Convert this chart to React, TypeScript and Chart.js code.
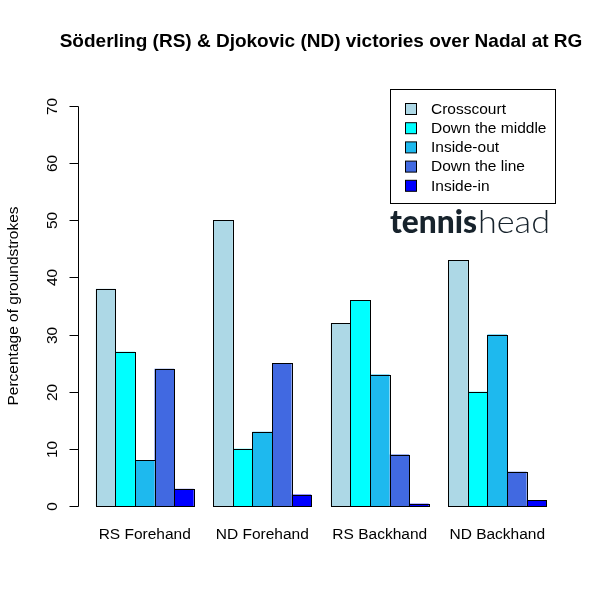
import React, { useEffect, useRef } from "react";
import { Chart, registerables } from "chart.js";

Chart.register(...registerables);

const title = "Söderling (RS) & Djokovic (ND) victories over Nadal at RG";
const yAxisTitle = "Percentage of groundstrokes";
const categories = ["RS Forehand", "ND Forehand", "RS Backhand", "ND Backhand"];
const seriesNames = ["Crosscourt", "Down the middle", "Inside-out", "Down the line", "Inside-in"];
const seriesColors = ["#ADD8E6", "#00FFFF", "#1EB9EE", "#4169E1", "#0000FF"];
const crosscourt = [38, 50, 32, 43];
const downTheMiddle = [27, 10, 36, 20];
const insideOut = [8, 13, 23, 30];
const downTheLine = [24, 25, 9, 6];
const insideIn = [3, 2, 0.4, 1];
const yTicks = [0, 10, 20, 30, 40, 50, 60, 70];
const logoBold = "tennis";
const logoLight = "head";

const FONT = "'Liberation Sans', Arial, sans-serif";

const crispBorders = {
  id: "crispBorders",
  afterDatasetsDraw(chart: any) {
    const ctx = chart.ctx as CanvasRenderingContext2D;
    ctx.save();
    ctx.strokeStyle = "#000";
    ctx.lineWidth = 1;
    chart.data.datasets.forEach((_: any, di: number) => {
      const meta = chart.getDatasetMeta(di);
      meta.data.forEach((bar: any) => {
        const { x, y, base, width } = bar.getProps(["x", "y", "base", "width"], true);
        const l = Math.round(x - width / 2) + 0.5;
        const r = Math.round(x + width / 2) + 0.5;
        const t = Math.round(y) + 0.5;
        const b = Math.round(base) + 0.5;
        ctx.strokeRect(l, t, r - l, b - t);
      });
    });
    ctx.restore();
  },
};

const decorPlugin = {
  id: "decor",
  afterDraw(chart: any) {
    const ctx = chart.ctx as CanvasRenderingContext2D;
    const ys = chart.scales.y;
    const xs = chart.scales.x;
    ctx.save();
    // title
    ctx.fillStyle = "#000";
    ctx.font = `bold 19px ${FONT}`;
    ctx.textAlign = "center";
    ctx.textBaseline = "middle";
    ctx.fillText(title, 321, 42);

    // y axis
    const axX = 78.5;
    ctx.strokeStyle = "#000";
    ctx.lineWidth = 1;
    ctx.beginPath();
    ctx.moveTo(axX, Math.round(ys.getPixelForValue(yTicks[0])) + 0.5);
    ctx.lineTo(axX, Math.round(ys.getPixelForValue(yTicks[yTicks.length - 1])) + 0.5);
    ctx.stroke();
    ctx.font = `15.5px ${FONT}`;
    for (const t of yTicks) {
      const py = Math.round(ys.getPixelForValue(t)) + 0.5;
      ctx.beginPath();
      ctx.moveTo(axX, py);
      ctx.lineTo(axX - 9, py);
      ctx.stroke();
      ctx.save();
      ctx.translate(53, py);
      ctx.rotate(-Math.PI / 2);
      ctx.textAlign = "center";
      ctx.textBaseline = "middle";
      ctx.fillText(String(t), 0, 0);
      ctx.restore();
    }
    // y title
    ctx.save();
    ctx.translate(14, 306);
    ctx.rotate(-Math.PI / 2);
    ctx.textAlign = "center";
    ctx.textBaseline = "middle";
    ctx.fillText(yAxisTitle, 0, 0);
    ctx.restore();

    // category labels
    ctx.textAlign = "center";
    ctx.textBaseline = "middle";
    categories.forEach((c, i) => {
      ctx.fillText(c, xs.getPixelForValue(i), 535);
    });

    // legend
    ctx.strokeRect(390.5, 89.5, 165, 114);
    ctx.textAlign = "left";
    seriesNames.forEach((n, i) => {
      const cy = 109 + i * 19.2;
      ctx.fillStyle = seriesColors[i];
      ctx.fillRect(405.5, cy - 5.5, 11, 11);
      ctx.strokeRect(405.5, cy - 5.5, 11, 11);
      ctx.fillStyle = "#000";
      ctx.fillText(n, 431, cy + 0.5);
    });

    // logo
    ctx.fillStyle = "#17232c";
    ctx.textBaseline = "alphabetic";
    ctx.font = `900 32px Lato, 'Open Sans', sans-serif`;
    const w1 = ctx.measureText(logoBold).width;
    ctx.save();
    ctx.translate(390, 233);
    ctx.scale(87 / w1, 1);
    ctx.fillText(logoBold, 0, 0);
    ctx.restore();
    ctx.font = `300 32px Lato, 'Open Sans', sans-serif`;
    const w2 = ctx.measureText(logoLight).width;
    ctx.save();
    ctx.translate(478, 233);
    ctx.scale(72 / w2, 1);
    ctx.fillText(logoLight, 0, 0);
    ctx.restore();
    ctx.restore();
  },
};

export default function App() {
  const ref = useRef<HTMLCanvasElement>(null);
  useEffect(() => {
    document.body.style.margin = "0";
    const data = [crosscourt, downTheMiddle, insideOut, downTheLine, insideIn];
    const chart = new Chart(ref.current!, {
      type: "bar",
      data: {
        labels: categories,
        datasets: seriesNames.map((n, i) => ({
          label: n,
          data: data[i],
          backgroundColor: seriesColors[i],
          borderWidth: 0,
          categoryPercentage: 5 / 6,
          barPercentage: 1,
        })),
      },
      options: {
        animation: false,
        responsive: false,
        layout: { padding: { left: 86, right: 48, top: 106, bottom: 98 } },
        plugins: { legend: { display: false }, title: { display: false }, tooltip: { enabled: false } },
        scales: {
          x: { display: false },
          y: { display: false, min: 0, max: 70 },
        },
      },
      plugins: [crispBorders, decorPlugin],
    });
    return () => chart.destroy();
  }, []);
  return (
    <div style={{ position: "fixed", left: 0, top: 0, width: 604, height: 604, background: "#fff" }}>
      <canvas ref={ref} width={604} height={604} />
    </div>
  );
}
